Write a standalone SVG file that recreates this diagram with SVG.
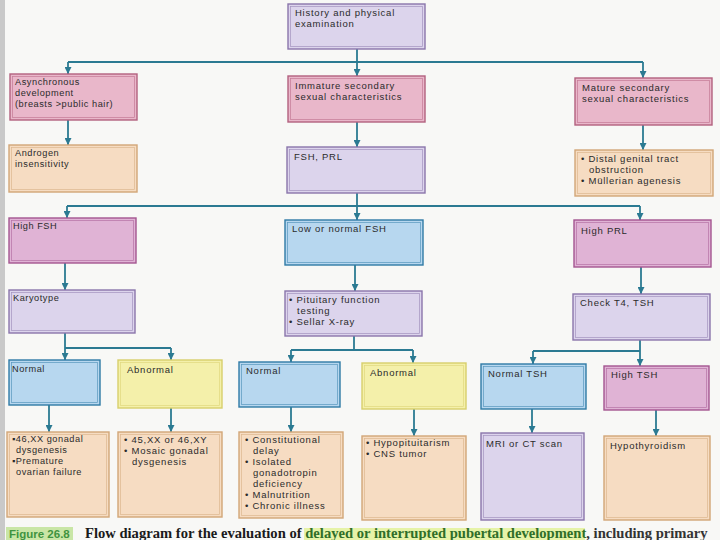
<svg xmlns="http://www.w3.org/2000/svg" width="720" height="540" viewBox="0 0 720 540">
<defs>
<style>
.bg{fill:#f8f8f6}
.t{font-family:"Liberation Sans",Arial,sans-serif;font-size:9.2px;fill:#2b2b2b;letter-spacing:0.55px}
.tl{font-size:9.5px;letter-spacing:0.75px}
.pu{fill:#dcd4ec;stroke:#8a76ab;stroke-width:1.4}
.pk{fill:#e9b7ca;stroke:#b3617f;stroke-width:1.4}
.mg{fill:#e0b3d5;stroke:#a45690;stroke-width:1.4}
.or{fill:#f6dcc2;stroke:#d2a677;stroke-width:1.4}
.bl{fill:#b7d7ef;stroke:#2f7ba6;stroke-width:1.4}
.ye{fill:#f4f0aa;stroke:#d7cf6c;stroke-width:1.4}
.in{fill:none;stroke-width:0.7;stroke-opacity:0.7}
.c{fill:none;stroke:#2b7a92;stroke-width:1.8}
.cap{font-family:"Liberation Serif","Times New Roman",serif;font-size:14.6px;font-weight:bold;fill:#1a1a1a}
</style>
<marker id="ah" viewBox="0 0 8 8" refX="8" refY="4" markerWidth="7" markerHeight="7" markerUnits="userSpaceOnUse" orient="auto">
<path d="M0,0 L8,4 L0,8 z" fill="#2b7a92"/>
</marker>
</defs>
<rect class="bg" x="0" y="0" width="720" height="540"/>
<rect x="0" y="0" width="5" height="540" fill="#c9c9c9"/>

<g id="connectors">
<path class="c" d="M357,49 V62 M68,62 H643"/>
<path class="c" marker-end="url(#ah)" d="M68,62 V74"/>
<path class="c" marker-end="url(#ah)" d="M357,62 V76"/>
<path class="c" marker-end="url(#ah)" d="M643,62 V78"/>
<path class="c" marker-end="url(#ah)" d="M68,120 V145"/>
<path class="c" marker-end="url(#ah)" d="M357,122 V147"/>
<path class="c" marker-end="url(#ah)" d="M643,125 V150"/>
<path class="c" d="M357,193 V206 M67,206 H640"/>
<path class="c" marker-end="url(#ah)" d="M67,206 V218"/>
<path class="c" marker-end="url(#ah)" d="M357,206 V220"/>
<path class="c" marker-end="url(#ah)" d="M640,206 V220"/>
<path class="c" marker-end="url(#ah)" d="M65,263 V290"/>
<path class="c" marker-end="url(#ah)" d="M355,265 V291"/>
<path class="c" marker-end="url(#ah)" d="M641,267 V294"/>
<path class="c" d="M65,333 V348 M65,348 H171"/>
<path class="c" marker-end="url(#ah)" d="M65,348 V360"/>
<path class="c" marker-end="url(#ah)" d="M171,348 V360"/>
<path class="c" d="M354,336 V350 M291,350 H413"/>
<path class="c" marker-end="url(#ah)" d="M291,350 V362"/>
<path class="c" marker-end="url(#ah)" d="M413,350 V363"/>
<path class="c" d="M640,340 V351 M533,351 H640"/>
<path class="c" marker-end="url(#ah)" d="M533,351 V364"/>
<path class="c" marker-end="url(#ah)" d="M640,351 V366"/>
<path class="c" marker-end="url(#ah)" d="M49,405 V432"/>
<path class="c" marker-end="url(#ah)" d="M171,408 V432"/>
<path class="c" marker-end="url(#ah)" d="M291,407 V432"/>
<path class="c" marker-end="url(#ah)" d="M414,409 V436"/>
<path class="c" marker-end="url(#ah)" d="M532,409 V433"/>
<path class="c" marker-end="url(#ah)" d="M656,410 V436"/>
</g>

<g id="n-history">
<rect class="pu" x="288" y="4" width="137" height="45"/>
<rect class="pu in" x="290.5" y="6.5" width="132" height="40"/>
<text class="t tl" x="295" y="16">History and physical</text>
<text class="t tl" x="295" y="27">examination</text>
</g>
<g id="n-async">
<rect class="pk" x="10" y="74" width="127" height="46"/>
<rect class="pk in" x="12.5" y="76.5" width="122" height="41"/>
<text class="t" x="15" y="85">Asynchronous</text>
<text class="t" x="15" y="96">development</text>
<text class="t" x="15" y="107">(breasts &gt;public hair)</text>
</g>
<g id="n-immature">
<rect class="pk" x="288" y="76" width="137" height="46"/>
<rect class="pk in" x="290.5" y="78.5" width="132" height="41"/>
<text class="t tl" x="295" y="89">Immature secondary</text>
<text class="t tl" x="295" y="100">sexual characteristics</text>
</g>
<g id="n-mature">
<rect class="pk" x="575" y="78" width="137" height="47"/>
<rect class="pk in" x="577.5" y="80.5" width="132" height="42"/>
<text class="t tl" x="582" y="91">Mature secondary</text>
<text class="t tl" x="582" y="102">sexual characteristics</text>
</g>
<g id="n-androgen">
<rect class="or" x="9" y="145" width="128" height="47"/>
<rect class="or in" x="11.5" y="147.5" width="123" height="42"/>
<text class="t" x="15" y="156">Androgen</text>
<text class="t" x="15" y="167">insensitivity</text>
</g>
<g id="n-fshprl">
<rect class="pu" x="287" y="147" width="138" height="46"/>
<rect class="pu in" x="289.5" y="149.5" width="133" height="41"/>
<text class="t tl" x="294" y="160">FSH, PRL</text>
</g>
<g id="n-distal">
<rect class="or" x="575" y="150" width="138" height="46"/>
<rect class="or in" x="577.5" y="152.5" width="133" height="41"/>
<text class="t tl" x="581" y="162">• Distal genital tract</text>
<text class="t tl" x="589" y="173">obstruction</text>
<text class="t tl" x="581" y="184">• Müllerian agenesis</text>
</g>
<g id="n-highfsh">
<rect class="mg" x="9" y="218" width="127" height="45"/>
<rect class="mg in" x="11.5" y="220.5" width="122" height="40"/>
<text class="t" x="13" y="229">High FSH</text>
</g>
<g id="n-lowfsh">
<rect class="bl" x="285" y="220" width="138" height="45"/>
<rect class="bl in" x="287.5" y="222.5" width="133" height="40"/>
<text class="t tl" x="292" y="232">Low or normal FSH</text>
</g>
<g id="n-highprl">
<rect class="mg" x="574" y="220" width="137" height="47"/>
<rect class="mg in" x="576.5" y="222.5" width="132" height="42"/>
<text class="t tl" x="581" y="234">High PRL</text>
</g>
<g id="n-karyotype">
<rect class="pu" x="9" y="290" width="126" height="43"/>
<rect class="pu in" x="11.5" y="292.5" width="121" height="38"/>
<text class="t" x="13" y="301">Karyotype</text>
</g>
<g id="n-pituitary">
<rect class="pu" x="285" y="291" width="137" height="45"/>
<rect class="pu in" x="287.5" y="293.5" width="132" height="40"/>
<text class="t tl" x="289" y="303">• Pituitary function</text>
<text class="t tl" x="297" y="314">testing</text>
<text class="t tl" x="289" y="325">• Sellar X-ray</text>
</g>
<g id="n-checkt4">
<rect class="pu" x="573" y="294" width="137" height="46"/>
<rect class="pu in" x="575.5" y="296.5" width="132" height="41"/>
<text class="t tl" x="580" y="306">Check T4, TSH</text>
</g>
<g id="n-normal1">
<rect class="bl" x="9" y="360" width="91" height="45"/>
<rect class="bl in" x="11.5" y="362.5" width="86" height="40"/>
<text class="t" x="12" y="372">Normal</text>
</g>
<g id="n-abnormal1">
<rect class="ye" x="118" y="360" width="104" height="48"/>
<rect class="ye in" x="120.5" y="362.5" width="99" height="43"/>
<text class="t tl" x="127" y="373">Abnormal</text>
</g>
<g id="n-normal2">
<rect class="bl" x="239" y="362" width="101" height="45"/>
<rect class="bl in" x="241.5" y="364.5" width="96" height="40"/>
<text class="t tl" x="246" y="374">Normal</text>
</g>
<g id="n-abnormal2">
<rect class="ye" x="362" y="363" width="104" height="46"/>
<rect class="ye in" x="364.5" y="365.5" width="99" height="41"/>
<text class="t tl" x="370" y="376">Abnormal</text>
</g>
<g id="n-normaltsh">
<rect class="bl" x="481" y="364" width="105" height="45"/>
<rect class="bl in" x="483.5" y="366.5" width="100" height="40"/>
<text class="t tl" x="488" y="377">Normal TSH</text>
</g>
<g id="n-hightsh">
<rect class="mg" x="604" y="366" width="105" height="44"/>
<rect class="mg in" x="606.5" y="368.5" width="100" height="39"/>
<text class="t tl" x="611" y="378">High TSH</text>
</g>
<g id="n-46xx">
<rect class="or" x="7" y="432" width="102" height="85"/>
<rect class="or in" x="9.5" y="434.5" width="97" height="80"/>
<text class="t" x="12" y="442">▪46,XX gonadal</text>
<text class="t" x="16" y="453">dysgenesis</text>
<text class="t" x="12" y="464">▪Premature</text>
<text class="t" x="16" y="475">ovarian failure</text>
</g>
<g id="n-45xx">
<rect class="or" x="118" y="432" width="104" height="85"/>
<rect class="or in" x="120.5" y="434.5" width="99" height="80"/>
<text class="t tl" x="124" y="443">• 45,XX or 46,XY</text>
<text class="t tl" x="124" y="454">• Mosaic gonadal</text>
<text class="t tl" x="132" y="465">dysgenesis</text>
</g>
<g id="n-constitutional">
<rect class="or" x="239" y="432" width="104" height="86"/>
<rect class="or in" x="241.5" y="434.5" width="99" height="81"/>
<text class="t tl" x="245" y="443">• Constitutional</text>
<text class="t tl" x="253" y="454">delay</text>
<text class="t tl" x="245" y="465">• Isolated</text>
<text class="t tl" x="253" y="476">gonadotropin</text>
<text class="t tl" x="253" y="487">deficiency</text>
<text class="t tl" x="245" y="498">• Malnutrition</text>
<text class="t tl" x="245" y="509">• Chronic illness</text>
</g>
<g id="n-hypopit">
<rect class="or" x="362" y="436" width="104" height="84"/>
<rect class="or in" x="364.5" y="438.5" width="99" height="79"/>
<text class="t tl" x="366" y="446">• Hypopituitarism</text>
<text class="t tl" x="366" y="457">• CNS tumor</text>
</g>
<g id="n-mri">
<rect class="pu" x="481" y="433" width="103" height="87"/>
<rect class="pu in" x="483.5" y="435.5" width="98" height="82"/>
<text class="t tl" x="486" y="447">MRI or CT scan</text>
</g>
<g id="n-hypothyroid">
<rect class="or" x="604" y="436" width="106" height="84"/>
<rect class="or in" x="606.5" y="438.5" width="101" height="79"/>
<text class="t tl" x="610" y="449">Hypothyroidism</text>
</g>

<g id="caption">
<rect x="6" y="527" width="67" height="14" fill="#c9e6a6"/>
<text x="9" y="538" font-family="'Liberation Sans',Arial,sans-serif" font-size="11.5" font-weight="bold" fill="#3f9440">Figure 26.8</text>
<rect x="304" y="528" width="281" height="13" fill="#e6f3a8"/>
<text class="cap" x="85" y="538">Flow diagram for the evaluation of <tspan fill="#2f6e28">delayed or interrupted pubertal development</tspan><tspan fill="#333333">, including primary</tspan></text>
</g>
</svg>
